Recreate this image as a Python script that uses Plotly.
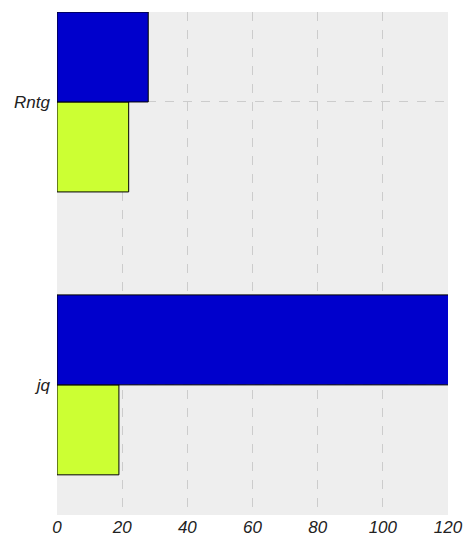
import plotly.graph_objects as go

categories = ["jq", "Rntg"]
series_blue = [125, 28]
series_yellow = [19, 22]
x_ticks = [0, 20, 40, 60, 80, 100, 120]

fig = go.Figure()
fig.add_trace(go.Bar(y=categories, x=series_yellow, orientation="h", name="B",
                     marker=dict(color="#CCFF33", line=dict(color="#000000", width=1))))
fig.add_trace(go.Bar(y=categories, x=series_blue, orientation="h", name="A",
                     marker=dict(color="#0000CC", line=dict(color="#000000", width=1))))

# page body has an 8px default margin, so the figure is sized to fit inside it
fig.update_layout(
    width=466, height=545,
    margin=dict(l=49, r=26, t=4, b=38),
    paper_bgcolor="white", plot_bgcolor="#EEEEEE",
    barmode="group", bargap=0.364, bargroupgap=0,
    showlegend=False,
    font=dict(family="Liberation Sans", size=16, color="#222222", style="italic"),
)
fig.update_xaxes(range=[0, 120], tickvals=x_ticks, showgrid=True, gridcolor="#CCCCCC",
                 griddash="dash", gridwidth=1, zeroline=False, showline=False, ticks="",
                 tickfont=dict(size=17, style="italic", color="#222222"))
fig.update_yaxes(type="category", categoryorder="array", categoryarray=categories,
                 range=[-0.46, 1.318], showgrid=True, gridcolor="#CCCCCC", griddash="dash",
                 gridwidth=1, zeroline=False, showline=False, ticks="",
                 ticklabelstandoff=6,
                 tickfont=dict(size=17, style="italic", color="#222222"))

fig.write_html("out.html")
